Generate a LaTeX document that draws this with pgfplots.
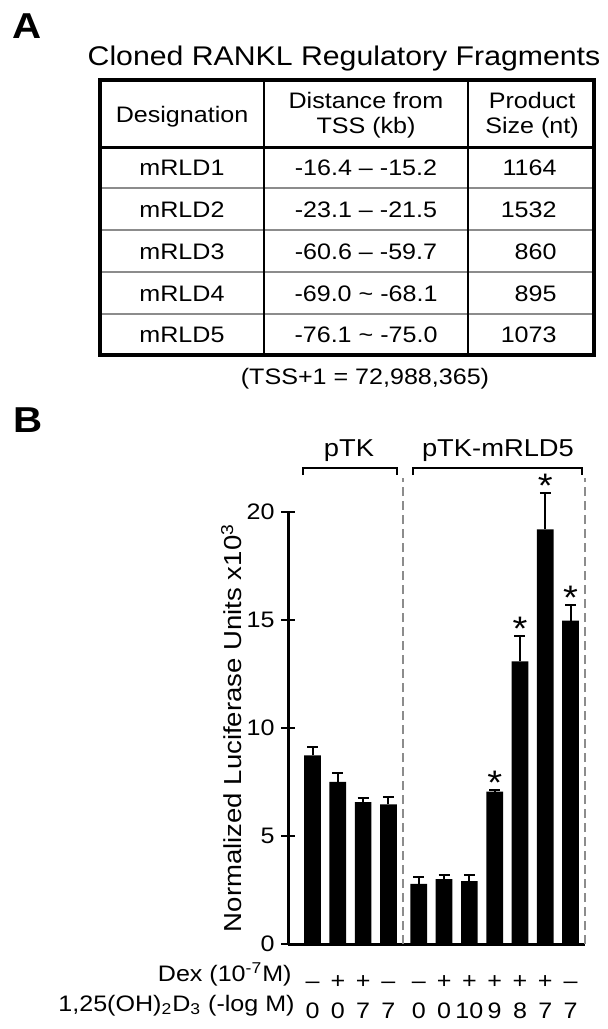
\documentclass[border=0pt]{standalone}
\usepackage{fontspec}
\setmainfont{Liberation Sans}[FakeStretch=1.12]
\usepackage{pgfplots}
\pgfplotsset{compat=1.18}
\usepackage{pgfplotstable}
\newcommand\fs[1]{\fontsize{#1}{#1}\selectfont}

\pgfplotstableread{
x     y      err
1     8.73   0.39
2     7.51   0.43
3     6.57   0.18
4     6.46   0.34
5.2   2.78   0.34
6.2   3.00   0.21
7.2   2.91   0.30
8.2   7.05   0.09
9.2   13.08  1.20
10.2  19.20  1.70
11.2  14.97  0.73
}\datatable

\pgfplotstableread{
x     y
8.2   7.14
9.2   14.28
10.2  20.90
11.2  15.70
}\startable

\begin{document}
\begin{tikzpicture}
\useasboundingbox (0,0) rectangle (304pt,-514.5pt);
% ---------------- Panel A ----------------
\node[anchor=base west, font=\fs{18}\bfseries, inner sep=0pt] at (6pt,-19pt) {A};
\node[anchor=base, font=\fs{13.5}, inner sep=0pt] at (172pt,-32.5pt) {Cloned RANKL Regulatory Fragments};
% table rules
\foreach \yy in {-94,-115,-136,-157}
  \draw[black!45, line width=0.9pt] (50pt,\yy pt) -- (297pt,\yy pt);
\draw[line width=1.3pt] (132pt,-40pt) -- (132pt,-177.5pt);
\draw[line width=1.3pt] (234pt,-40pt) -- (234pt,-177.5pt);
\draw[line width=1.5pt] (50pt,-73.5pt) -- (297pt,-73.5pt);
\draw[line width=1.6pt] (50pt,-40pt) rectangle (297pt,-177.5pt);
% header
\begin{scope}[every node/.style={anchor=base, inner sep=0pt, font=\fs{11.2}}]
\node at (91pt,-61pt) {Designation};
\node at (183pt,-54pt) {Distance from};
\node at (183pt,-66.5pt) {TSS (kb)};
\node at (266pt,-54pt) {Product};
\node at (266pt,-66.5pt) {Size (nt)};
% rows
\node at (91pt,-87.75pt) {mRLD1};
\node at (91pt,-108.5pt) {mRLD2};
\node at (91pt,-129.5pt) {mRLD3};
\node at (91pt,-150.5pt) {mRLD4};
\node at (91pt,-171.25pt) {mRLD5};
\node at (183pt,-87.75pt) {-16.4 -- -15.2};
\node at (183pt,-108.5pt) {-23.1 -- -21.5};
\node at (183pt,-129.5pt) {-60.6 -- -59.7};
\node at (183pt,-150.5pt) {-69.0 \char`~\ -68.1};
\node at (183pt,-171.25pt) {-76.1 \char`~\ -75.0};
\node[anchor=base east] at (278.5pt,-87.75pt) {1164};
\node[anchor=base east] at (278.5pt,-108.5pt) {1532};
\node[anchor=base east] at (278.5pt,-129.5pt) {860};
\node[anchor=base east] at (278.5pt,-150.5pt) {895};
\node[anchor=base east] at (278.5pt,-171.25pt) {1073};
\node at (182.5pt,-192pt) {(TSS+1 = 72,988,365)};
\end{scope}
% ---------------- Panel B ----------------
\node[anchor=base west, font=\fs{18}\bfseries, inner sep=0pt] at (6.5pt,-216pt) {B};
\node[anchor=base east, inner sep=0pt, font=\fs{11.2}] at (146pt,-490.5pt) {Dex (10\textsuperscript{-7}M)};
\node[anchor=base east, inner sep=0pt, font=\fs{11.2}] at (147.5pt,-505.75pt) {1,25(OH)\textsubscript{2}D\textsubscript{3} (-log M)};

\begin{axis}[
  at={(144pt,-472pt)}, anchor=south west,
  scale only axis, width=148.5pt, height=216pt,
  xmin=0.03, xmax=11.77, ymin=0, ymax=20,
  axis x line*=bottom, axis y line*=left,
  axis line style={line width=1.5pt, black},
  clip=false,
  ytick={0,5,10,15,20},
  tick align=center,
  major tick length=7pt,
  ytick style={line width=1pt, black},
  xtick={1,2,3,4,5.2,6.2,7.2,8.2,9.2,10.2,11.2},
  xticklabels={--,+,+,--,--,+,+,+,+,+,--},
  xtick style={draw=none},
  extra x ticks={1,2,3,4,5.2,6.2,7.2,8.2,9.2,10.2,11.2},
  extra x tick labels={0,0,7,7,0,0,10,9,8,7,7},
  extra x tick style={xticklabel style={yshift=-15.25pt}},
  xticklabel style={anchor=base, inner sep=0pt, font=\fs{11.2}, yshift=-18.5pt},
  yticklabel style={anchor=east, inner sep=0pt, font=\fs{11.2}, xshift=-3pt},
  /pgf/number format/assume math mode=true,
  ylabel={Normalized Luciferase Units x10\textsuperscript{3}},
  every axis y label/.style={at={(axis description cs:-0.19,0.5)}, rotate=90, anchor=center, font=\fs{12.3}},
]
\addplot[ybar, bar width=0.66, bar shift=0pt, fill=black, draw=none,
  error bars/.cd, y dir=plus, y explicit,
  error bar style={line width=1pt, black},
  error mark options={rotate=90, mark size=2.75pt, line width=1pt, black}]
  table[x=x, y=y, y error=err] {\datatable};
\addplot[draw=none, mark=none, nodes near coords={*},
  nodes near coords style={anchor=base, inner sep=0pt, yshift=-2.5pt, font=\fs{17}}]
  table[x=x, y=y] {\startable};
% dashed separators
\draw[black!45, line width=1pt, dash pattern=on 4.5pt off 2.5pt] (axis cs:4.59,0) -- (axis cs:4.59,21.57);
\draw[black!45, line width=1pt, dash pattern=on 4.5pt off 2.5pt] (axis cs:11.77,0) -- (axis cs:11.77,21.57);
% brackets
\draw[line width=1pt] (axis cs:0.62,21.71) -- (axis cs:0.62,22.04) -- (axis cs:4.34,22.04) -- (axis cs:4.34,21.71);
\draw[line width=1pt] (axis cs:4.97,21.71) -- (axis cs:4.97,22.04) -- (axis cs:11.65,22.04) -- (axis cs:11.65,21.71);
\node[anchor=base, inner sep=0pt, font=\fs{12.2}] at (axis cs:2.44,22.55) {pTK};
\node[anchor=base, inner sep=0pt, font=\fs{12.2}] at (axis cs:8.33,22.55) {pTK-mRLD5};
\end{axis}
\end{tikzpicture}
\end{document}
